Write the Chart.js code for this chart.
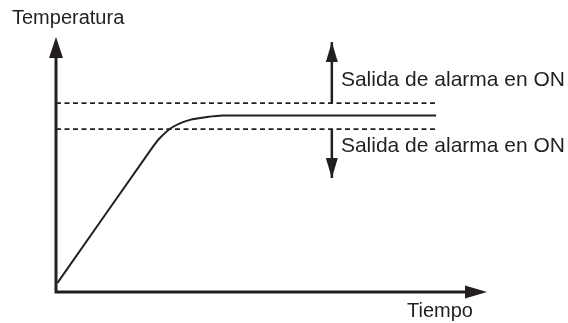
<!DOCTYPE html>
<html>
<head>
<meta charset="utf-8">
<script src="https://cdn.jsdelivr.net/npm/chart.js@4/dist/chart.umd.min.js"></script>
<style>
  html, body { margin: 0; padding: 0; background: #fff; }
  #caja { width: 568px; height: 323px; }
</style>
</head>
<body>
<div id="caja"><canvas id="grafico"></canvas></div>
<script>
// Datos (escala 0-100 en ambos ejes)
const tiempo = [0.3, 22.3, 24.1, 27.1, 31.1, 35.0, 38.7, 88.2];
const temperatura = [3.5, 56.5, 60.4, 64.7, 67.5, 68.6, 69.2, 69.2];

const limiteSuperior = 74.1;
const limiteInferior = 63.9;
const finLimites = 88.4;

// Flechas de salida de alarma
const flechaX = 64.0;
const flechaArriba = [limiteSuperior, 98.0];
const flechaAbajo = [limiteInferior, 44.7];

const textoAlarma = "Salida de alarma en ON";
const textoX = 66.1;
const textoY = [80.8, 54.9];

const tituloY = "Temperatura";
const tituloX = "Tiempo";

const negro = "#231f20";

function punta(ctx, x, y, ang, largo, ancho) {
    ctx.save();
    ctx.translate(x, y);
    ctx.rotate(ang);
    ctx.beginPath();
    ctx.moveTo(0, 0);
    ctx.lineTo(-largo, -ancho);
    ctx.lineTo(-largo, ancho);
    ctx.closePath();
    ctx.fillStyle = negro;
    ctx.fill();
    ctx.restore();
}

// Dibuja ejes con flechas, puntas de las flechas de alarma y los textos
const extras = {
    id: "extras",
    afterDatasetsDraw(chart) {
        const ctx = chart.ctx;
        const sx = chart.scales.x;
        const sy = chart.scales.y;
        const x0 = sx.getPixelForValue(0);
        const y0 = sy.getPixelForValue(0);
        const xFin = sx.getPixelForValue(100);
        const yFin = sy.getPixelForValue(100);

        ctx.save();
        ctx.strokeStyle = negro;
        ctx.lineWidth = 3;
        ctx.beginPath();
        ctx.moveTo(x0, yFin + 18);
        ctx.lineTo(x0, y0);
        ctx.lineTo(xFin - 18, y0);
        ctx.stroke();
        punta(ctx, x0, yFin, -Math.PI / 2, 21, 7);
        punta(ctx, xFin, y0, 0, 22, 6.5);

        const fx = sx.getPixelForValue(flechaX);
        punta(ctx, fx, sy.getPixelForValue(flechaArriba[1]), -Math.PI / 2, 20, 6);
        punta(ctx, fx, sy.getPixelForValue(flechaAbajo[1]), Math.PI / 2, 20, 6);

        ctx.fillStyle = negro;
        ctx.textBaseline = "alphabetic";
        ctx.textAlign = "left";
        ctx.font = "20px 'Liberation Sans', Arial, sans-serif";
        ctx.fillText(tituloY, 12, 24);
        ctx.fillText(tituloX, 407, 317);
        ctx.font = "21px 'Liberation Sans', Arial, sans-serif";
        textoY.forEach(v => {
            ctx.fillText(textoAlarma, sx.getPixelForValue(textoX), sy.getPixelForValue(v));
        });
        ctx.restore();
    }
};

new Chart(document.getElementById("grafico").getContext("2d"), {
    type: "scatter",
    data: {
        datasets: [
            {
                data: tiempo.map((t, i) => ({ x: t, y: temperatura[i] })),
                showLine: true,
                borderColor: negro,
                borderWidth: 2,
                pointRadius: 0,
                tension: 0.25,
                clip: false
            },
            {
                data: [{ x: 0, y: limiteSuperior }, { x: finLimites, y: limiteSuperior }],
                showLine: true,
                borderColor: negro,
                borderWidth: 1.8,
                borderDash: [5, 3.5],
                pointRadius: 0,
                clip: false
            },
            {
                data: [{ x: 0, y: limiteInferior }, { x: finLimites, y: limiteInferior }],
                showLine: true,
                borderColor: negro,
                borderWidth: 1.8,
                borderDash: [5, 3.5],
                pointRadius: 0,
                clip: false
            },
            {
                data: flechaArriba.map(v => ({ x: flechaX, y: v })),
                showLine: true,
                borderColor: negro,
                borderWidth: 2.5,
                pointRadius: 0,
                clip: false
            },
            {
                data: flechaAbajo.map(v => ({ x: flechaX, y: v })),
                showLine: true,
                borderColor: negro,
                borderWidth: 2.5,
                pointRadius: 0,
                clip: false
            }
        ]
    },
    options: {
        responsive: true,
        maintainAspectRatio: false,
        animation: false,
        layout: { padding: { left: 56, right: 81, top: 37, bottom: 31 } },
        plugins: { legend: { display: false }, tooltip: { enabled: false } },
        scales: {
            x: { type: "linear", min: 0, max: 100, display: false },
            y: { type: "linear", min: 0, max: 100, display: false }
        }
    },
    plugins: [extras]
});
</script>
</body>
</html>
